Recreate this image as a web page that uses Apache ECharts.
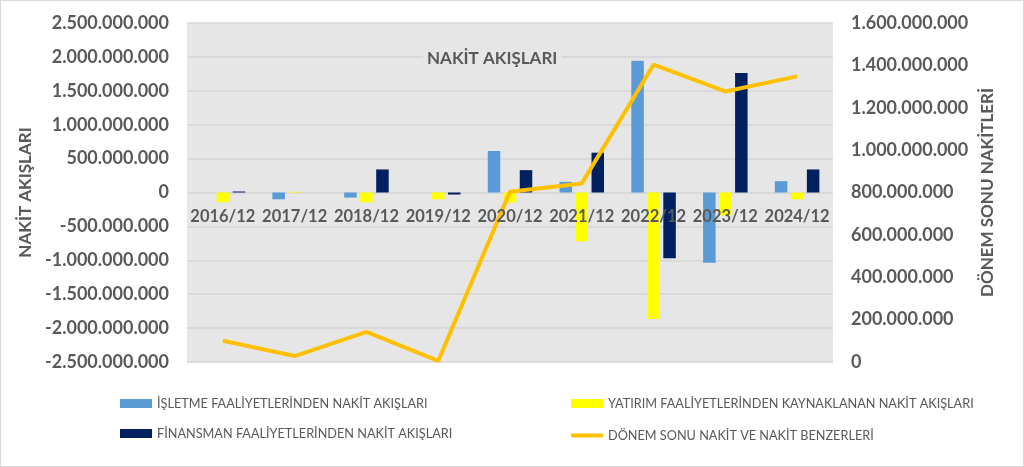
<!DOCTYPE html>
<html><head><meta charset="utf-8">
<script src="https://cdn.jsdelivr.net/npm/echarts@6/dist/echarts.min.js"></script>
<style>html,body{margin:0;padding:0;background:#fff}#c{width:1022px;height:465px;border:1px solid #d9d9d9}</style>
</head><body><div id="c"></div>
<script>
const categories = ['2016/12','2017/12','2018/12','2019/12','2020/12','2021/12','2022/12','2023/12','2024/12'];
const isletme = [0, -100000000, -75000000, 0, 612000000, 157000000, 1945000000, -1036000000, 167000000];
const yatirim = [-145000000, 10000000, -145000000, -100000000, -150000000, -720000000, -1865000000, -336000000, -100000000];
const finansman = [15000000, 0, 340000000, -30000000, 330000000, 587000000, -968000000, 1762000000, 340000000];
const donemSonu = [100000000, 28000000, 142000000, 5000000, 804000000, 843000000, 1403000000, 1277000000, 1348000000];
const names = ['İŞLETME FAALİYETLERİNDEN NAKİT AKIŞLARI','YATIRIM FAALİYETLERİNDEN KAYNAKLANAN NAKİT AKIŞLARI','FİNANSMAN FAALİYETLERİNDEN NAKİT AKIŞLARI','DÖNEM SONU NAKİT VE NAKİT BENZERLERİ'];

const fmt = v => { const s = Math.abs(v).toString().replace(/\B(?=(\d{3})+(?!\d))/g, '.'); return (v < 0 ? '-' : '') + s; };
const gray = '#595959';
const font = 'Lato';
const legendText = {color: gray, fontFamily: font, fontSize: 12.7};
function leg(name, left, top, icon, h) {
  return {data: [{name: name, icon: icon}], left: left, top: top, itemWidth: 32, itemHeight: h, itemGap: 4, textStyle: legendText, selectedMode: false, padding: 0};
}
const chart = echarts.init(document.getElementById('c'));
chart.setOption({
  animation: false,
  backgroundColor: '#fff',
  title: {text: 'NAKİT AKIŞLARI', left: 422, top: 47, padding: [2, 4], backgroundColor: '#e6e6e6',
    textStyle: {color: gray, fontFamily: font, fontWeight: 'bold', fontSize: 17}},
  legend: [
    leg(names[0], 119, 396, 'rect', 9),
    leg(names[1], 570, 396, 'rect', 9),
    leg(names[2], 119, 426, 'rect', 9),
    leg(names[3], 570, 428, 'roundRect', 4)
  ],
  grid: {left: 186, right: 190, top: 22, bottom: 104, show: true, backgroundColor: '#e6e6e6', borderWidth: 0},
  xAxis: {type: 'category', data: categories, boundaryGap: true, position: 'bottom', offset: -170, z: 10,
    axisLine: {show: false, onZero: false},
    axisTick: {show: false},
    axisLabel: {color: gray, fontFamily: font, fontWeight: 'bold', fontSize: 16.5, margin: 16, interval: 0}},
  yAxis: [
    {type: 'value', min: -2500000000, max: 2500000000, interval: 500000000,
      name: 'NAKİT AKIŞLARI', nameLocation: 'middle', nameGap: 134, nameRotate: 90,
      nameTextStyle: {color: gray, fontFamily: font, fontWeight: 'bold', fontSize: 17},
      axisLine: {show: false}, axisTick: {show: false},
      axisLabel: {color: gray, fontFamily: font, fontWeight: 'bold', fontSize: 18, margin: 18, formatter: fmt},
      splitLine: {show: true, lineStyle: {color: '#d4d4d4', width: 1.5}}},
    {type: 'value', min: 0, max: 1600000000, interval: 200000000, position: 'right',
      name: 'DÖNEM SONU NAKİTLERİ', nameLocation: 'middle', nameGap: 132, nameRotate: 90,
      nameTextStyle: {color: gray, fontFamily: font, fontWeight: 'bold', fontSize: 17},
      axisLine: {show: false}, axisTick: {show: false},
      axisLabel: {color: gray, fontFamily: font, fontWeight: 'bold', fontSize: 18, margin: 18, formatter: fmt},
      splitLine: {show: false}}
  ],
  series: [
    {name: names[0], type: 'bar', data: isletme, yAxisIndex: 0, barWidth: 12.5, barGap: '28%', itemStyle: {color: '#5B9BD5'}},
    {name: names[1], type: 'bar', data: yatirim, yAxisIndex: 0, barWidth: 12.5, barGap: '28%', itemStyle: {color: '#FFFF00'}},
    {name: names[2], type: 'bar', data: finansman, yAxisIndex: 0, barWidth: 12.5, barGap: '28%', itemStyle: {color: '#002060'}},
    {name: names[3], type: 'line', data: donemSonu, yAxisIndex: 1, showSymbol: false, symbol: 'none',
      lineStyle: {color: '#FFC000', width: 4}, itemStyle: {color: '#FFC000'}, z: 5}
  ]
});
</script></body></html>
